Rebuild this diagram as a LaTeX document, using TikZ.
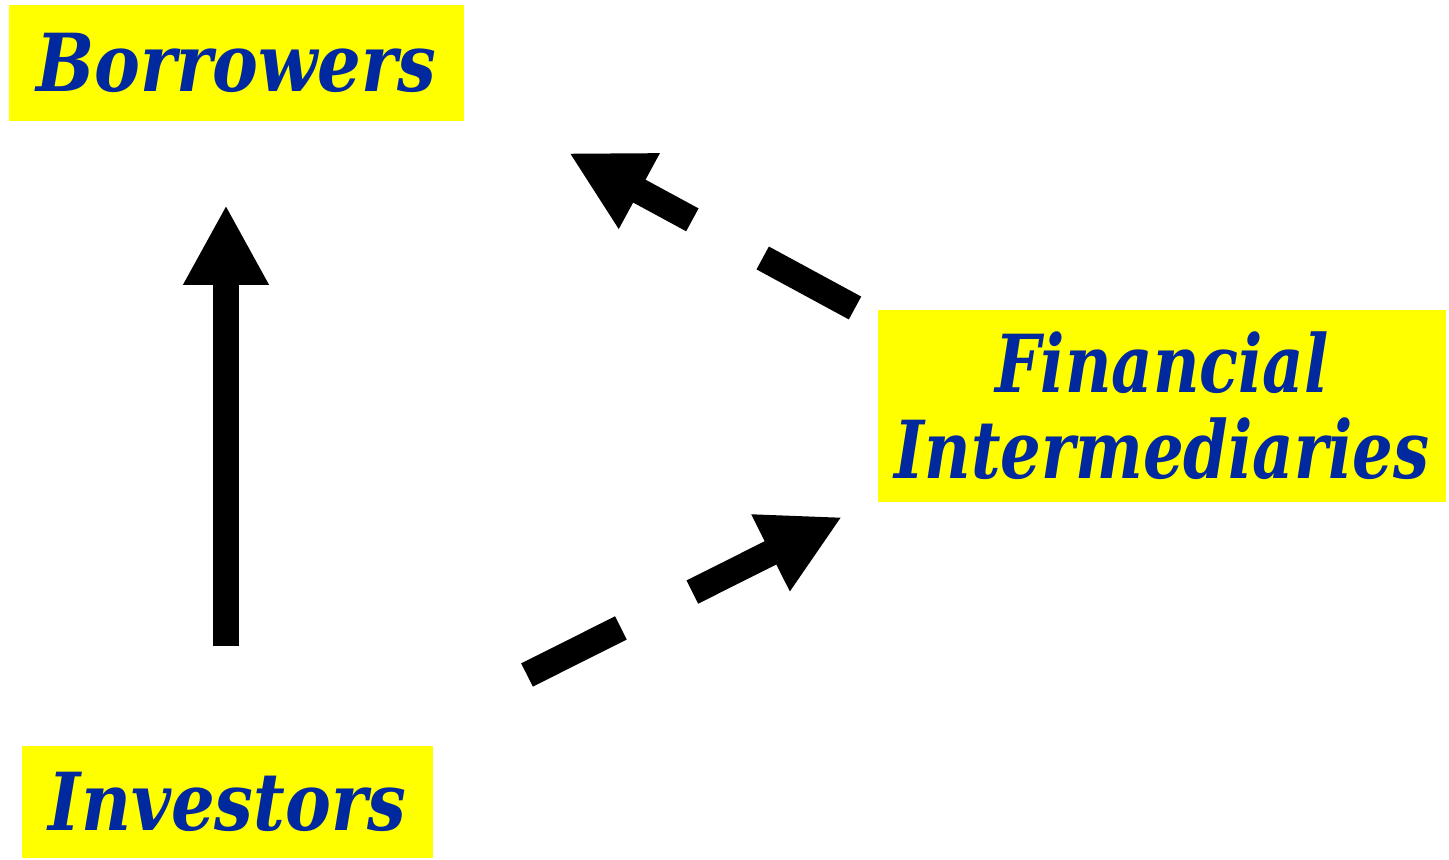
\documentclass[tikz,border=0pt]{standalone}
\usepackage{fontspec}
\usepackage{tikz}
\usetikzlibrary{arrows.meta}

\newfontfamily\boxfont{DejaVu Serif}[FakeStretch=0.86]
\newfontfamily\narrowboxfont{DejaVu Serif}[FakeStretch=0.8]
\definecolor{boxyellow}{RGB}{255,255,0}
\definecolor{textblue}{RGB}{0,41,160}

\begin{document}
\begin{tikzpicture}[x=0.5pt, y=-0.5pt,
        party/.style={fill=boxyellow, inner sep=0pt, text=textblue,
                      font=\boxfont\bfseries\itshape\fontsize{40}{42.5}\selectfont},
        flow/.style={line width=13pt, -{Triangle[length=40pt, width=40pt]}},
        indirect/.style={flow, dash pattern=on 52.5pt off 40pt}]
    \useasboundingbox (0,0) rectangle (1449,860);

    % Boxes for the three parties
    \node[party, minimum width=227.5pt, minimum height=58pt] (bor) at (236.5,63) {Borrowers};
    \node[party, minimum width=205.5pt, minimum height=56pt] (inv) at (227.5,802) {Investors};
    \node[party, minimum width=284pt, minimum height=96pt, align=center,
          font=\narrowboxfont\bfseries\itshape\fontsize{40}{43}\selectfont] (fin) at (1162,406)
        {Financial\\Intermediaries};

    % Free ends of the arrows
    \coordinate (inv-up)   at (226,646);
    \coordinate (bor-down) at (226,205);
    \coordinate (inv-right) at (527,675);
    \coordinate (fin-in)    at (842,517);
    \coordinate (fin-out)   at (855,308);
    \coordinate (bor-right) at (569,153);

    % Direct finance
    \draw[flow] (inv-up) -- (bor-down);

    % Indirect finance, through the intermediaries
    \draw[indirect] (inv-right) -- (fin-in);
    \draw[indirect] (fin-out) -- (bor-right);
\end{tikzpicture}
\end{document}
